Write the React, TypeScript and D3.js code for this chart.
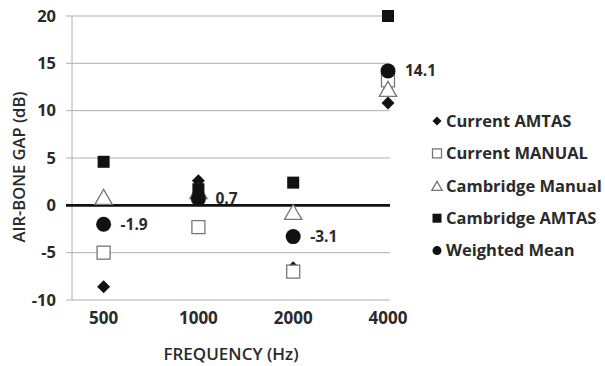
import * as d3 from 'd3';

const categories = ['500', '1000', '2000', '4000'];
const yTicks = [20, 15, 10, 5, 0, -5, -10];

const currentAmtas = [-8.6, 2.6, -6.6, 10.8];
const currentManual = [-5.0, -2.3, -7.0, 13.2];
const cambridgeManual = [0.9, 1.5, -0.7, 12.3];
const cambridgeAmtas = [4.6, 1.7, 2.4, 20.0];
const weightedMean = [-2.0, 0.7, -3.3, 14.2];
const meanLabels = ['-1.9', '0.7', '-3.1', '14.1'];

const legendNames = ['Current AMTAS', 'Current MANUAL', 'Cambridge Manual', 'Cambridge AMTAS', 'Weighted Mean'];

const FONT = "'Open Sans', sans-serif";
const TEXT = '#2a2a2a';

type Kind = 'diamond' | 'openSquare' | 'triangle' | 'square' | 'circle';

const Marker = ({ kind, x, y, s }: { kind: Kind; x: number; y: number; s: number }) => {
  if (kind === 'diamond') {
    const h = s * 0.5;
    return <path d={`M${x},${y - h}L${x + h},${y}L${x},${y + h}L${x - h},${y}Z`} fill="#111" />;
  }
  if (kind === 'openSquare') {
    const h = s * 0.5;
    return <rect x={x - h} y={y - h} width={s} height={s} fill="#fff" stroke="#777" strokeWidth={1.3} />;
  }
  if (kind === 'triangle') {
    const w = s * 0.58;
    const h = s * 0.5;
    return <path d={`M${x},${y - h}L${x + w},${y + h}L${x - w},${y + h}Z`} fill="#fff" stroke="#777" strokeWidth={1.3} />;
  }
  if (kind === 'square') {
    const h = s * 0.5;
    return <rect x={x - h} y={y - h} width={s} height={s} fill="#111" />;
  }
  return <circle cx={x} cy={y} r={s * 0.5} fill="#111" />;
};

const series: { kind: Kind; values: number[]; size: number }[] = [
  { kind: 'diamond', values: currentAmtas, size: 13 },
  { kind: 'openSquare', values: currentManual, size: 13 },
  { kind: 'triangle', values: cambridgeManual, size: 15 },
  { kind: 'square', values: cambridgeAmtas, size: 12 },
  { kind: 'circle', values: weightedMean, size: 15 },
];

const legendKinds: Kind[] = ['diamond', 'openSquare', 'triangle', 'square', 'circle'];

export default function App() {
  const width = 605;
  const height = 366;
  const left = 72;
  const right = 388;

  const x = d3.scaleLinear().domain([-1 / 3, categories.length - 1]).range([left, right]);
  const y = d3.scaleLinear().domain([-10, 20]).range([300, 16]);

  return (
    <svg width={width} height={height} style={{ position: 'absolute', left: 0, top: 0, background: '#fff' }}>
      {/* gridlines */}
      {yTicks.filter(t => t !== 0).map(t => (
        <line key={t} x1={left - 6} x2={right + 2} y1={y(t)} y2={y(t)} stroke="#b0b0b0" strokeWidth={1} />
      ))}
      <line x1={left} x2={left} y1={y(20)} y2={y(-10)} stroke="#b0b0b0" strokeWidth={1} />
      <line x1={left - 6} x2={right + 2} y1={y(0)} y2={y(0)} stroke="#111" strokeWidth={2.6} />

      {/* y tick labels */}
      {yTicks.map(t => (
        <text key={t} x={56} y={y(t)} dy="0.35em" textAnchor="end" fontFamily={FONT} fontWeight={700} fontSize={16.5} fill={TEXT}>
          {t}
        </text>
      ))}

      {/* x tick labels */}
      {categories.map((c, i) => (
        <text key={c} x={x(i)} y={318} dy="0.35em" textAnchor="middle" fontFamily={FONT} fontWeight={700} fontSize={17} fill={TEXT}>
          {c}
        </text>
      ))}

      {/* markers */}
      {series.map(s =>
        s.values.map((v, i) => <Marker key={s.kind + i} kind={s.kind} x={x(i)} y={y(v)} s={s.size} />)
      )}

      {/* data labels */}
      {meanLabels.map((l, i) => (
        <text key={l} x={x(i) + 17} y={y(weightedMean[i])} dy="0.35em" fontFamily={FONT} fontWeight={700} fontSize={15.5} fill={TEXT}>
          {l}
        </text>
      ))}

      {/* axis titles */}
      <text transform={`translate(19,167) rotate(-90)`} textAnchor="middle" dy="0.35em" fontFamily={FONT} fontWeight={600} fontSize={16.5} fill={TEXT}>
        AIR-BONE GAP (dB)
      </text>
      <text x={231} y={354} dy="0.35em" textAnchor="middle" fontFamily={FONT} fontWeight={600} fontSize={17} fill={TEXT}>
        FREQUENCY (Hz)
      </text>

      {/* legend */}
      {legendNames.map((n, i) => {
        const ly = 121 + i * 32.4;
        return (
          <g key={n}>
            <Marker kind={legendKinds[i]} x={437} y={ly} s={9} />
            <text x={446} y={ly} dy="0.35em" fontFamily={FONT} fontWeight={700} fontSize={16.5} fill={TEXT}>
              {n}
            </text>
          </g>
        );
      })}
    </svg>
  );
}
